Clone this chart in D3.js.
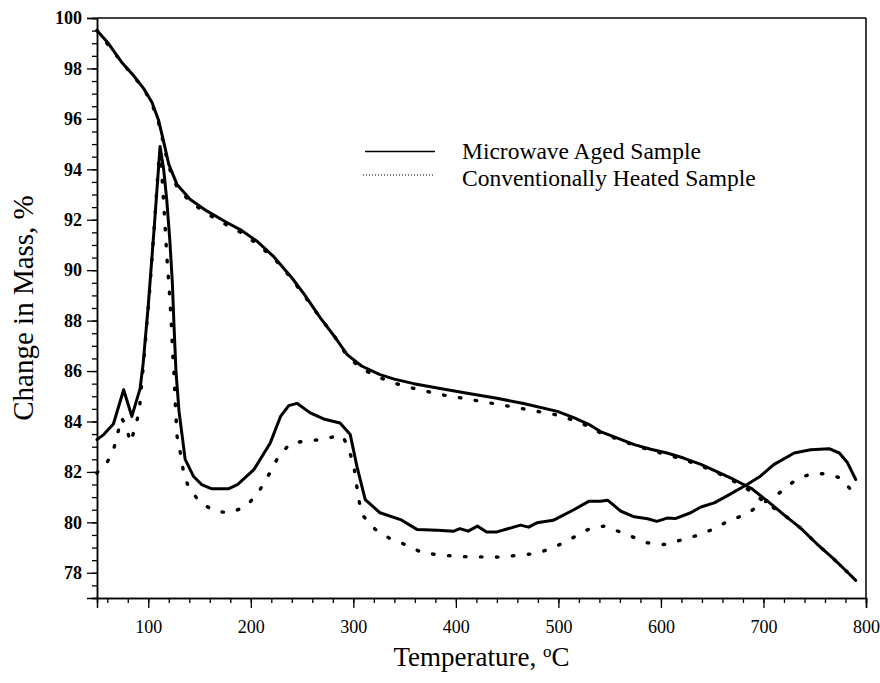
<!DOCTYPE html>
<html>
<head>
<meta charset="utf-8">
<script src="https://cdn.jsdelivr.net/npm/d3@7"></script>
<style>
  html, body { margin: 0; padding: 0; background: #fff; }
  svg { display: block; }
  text { font-family: "Liberation Serif", "Times New Roman", serif; fill: #000; }
</style>
</head>
<body>
<svg id="chart" width="880" height="683"></svg>
<script>
// Thermogravimetric mass curves (Change in Mass, %) vs temperature (°C)
const massTempMw = [50, 60, 74, 85, 95.6, 103.7, 110, 115, 120, 128, 141, 157, 174, 190, 206, 222, 240, 252, 268, 282, 294, 308, 326, 340, 359, 386, 414, 440, 466, 499, 515, 530, 541, 557, 574, 590, 606, 622, 639, 655, 671, 688, 704, 720, 736, 752, 769, 780, 790];
const massMicrowave = [99.5, 99.05, 98.25, 97.75, 97.2, 96.65, 95.95, 95.1, 94.2, 93.4, 92.8, 92.35, 91.95, 91.6, 91.15, 90.55, 89.7, 89.05, 88.1, 87.35, 86.65, 86.2, 85.86, 85.68, 85.5, 85.3, 85.1, 84.92, 84.71, 84.4, 84.15, 83.88, 83.6, 83.35, 83.08, 82.9, 82.75, 82.55, 82.3, 82.0, 81.7, 81.35, 80.84, 80.3, 79.78, 79.15, 78.53, 78.1, 77.7];

const massTempConv = [50, 74, 95.6, 104, 110, 115, 120, 128, 141, 157, 174, 190, 206, 222, 238, 252, 268, 282, 294, 308, 322, 339, 360, 386, 410, 434, 466, 497, 515, 528, 541, 559, 574, 590, 606, 622, 638, 653, 669, 684, 700, 720, 736, 752, 769, 780, 790];
const massConventional = [99.5, 98.25, 97.2, 96.55, 95.85, 95.0, 94.1, 93.3, 92.7, 92.25, 91.85, 91.5, 91.05, 90.5, 89.75, 89.0, 88.1, 87.35, 86.6, 86.1, 85.8, 85.53, 85.3, 85.06, 84.9, 84.73, 84.5, 84.27, 84.05, 83.83, 83.55, 83.28, 83.05, 82.86, 82.68, 82.49, 82.26, 82.0, 81.68, 81.33, 80.84, 80.3, 79.78, 79.15, 78.53, 78.1, 77.7];

// Rate-type curves plotted on the same axis
const rateTempMw = [50, 56.5, 66, 76, 84, 92, 95, 100, 106, 111.5, 115, 118, 121, 123.5, 125, 127, 130, 136, 144, 152, 162, 178, 187, 203, 219, 229, 237, 245, 258, 271, 287, 297, 303.5, 311.6, 326, 346, 362, 382, 398, 404, 412, 421, 430, 440, 463, 471, 479, 495, 515, 530, 541, 548, 561, 574, 587, 596, 606, 614, 629, 639, 652, 665, 684, 697, 710, 730, 746, 764, 774, 782, 790];
const rateMicrowave = [83.28, 83.48, 83.9, 85.26, 84.2, 85.3, 86.3, 88.6, 91.8, 94.9, 94.0, 92.8, 91.2, 89.5, 87.9, 86.0, 84.4, 82.5, 81.83, 81.5, 81.33, 81.33, 81.5, 82.09, 83.15, 84.2, 84.63, 84.72, 84.34, 84.1, 83.94, 83.48, 82.22, 80.9, 80.38, 80.11, 79.72, 79.69, 79.65, 79.75, 79.65, 79.85, 79.62, 79.62, 79.89, 79.81, 79.98, 80.08, 80.5, 80.84, 80.84, 80.88, 80.44, 80.22, 80.14, 80.04, 80.17, 80.15, 80.38, 80.61, 80.77, 81.06, 81.5, 81.83, 82.29, 82.75, 82.88, 82.92, 82.75, 82.36, 81.7];

const rateTempConv = [50, 51.5, 58.5, 66, 70, 74, 78.3, 82.7, 87.2, 91.2, 92.5, 96, 101, 106, 110.5, 113, 114.5, 116.5, 118.2, 120.5, 122.5, 124, 125, 126.4, 128.1, 131.3, 134, 138.6, 149.3, 164.5, 180, 195.8, 208, 217.6, 225.7, 238, 254.7, 269.4, 285.6, 290, 295.4, 300.3, 305, 308.4, 321.4, 336, 352.3, 367, 383, 399.5, 414, 430, 445, 461, 477.6, 492, 508.5, 524.7, 535, 545, 555, 571.9, 586.6, 602.9, 619, 635.4, 651.7, 666.3, 682.6, 699, 713.5, 729.8, 745.4, 760.7, 775.4, 788.4];
const rateConventional = [81.95, 82.05, 82.27, 82.86, 83.5, 84.14, 83.81, 83.17, 83.76, 84.4, 85.0, 86.6, 89.0, 91.8, 94.5, 94.0, 93.0, 91.7, 90.5, 89.2, 87.9, 86.6, 85.99, 84.67, 83.41, 82.75, 82.09, 81.46, 80.84, 80.44, 80.38, 80.64, 81.23, 81.89, 82.51, 83.12, 83.24, 83.28, 83.44, 83.4, 82.91, 82.29, 80.97, 80.31, 79.72, 79.35, 79.09, 78.8, 78.71, 78.66, 78.63, 78.63, 78.62, 78.7, 78.76, 78.95, 79.25, 79.65, 79.8, 79.85, 79.7, 79.43, 79.19, 79.12, 79.29, 79.48, 79.74, 80.07, 80.31, 80.75, 81.1, 81.63, 81.92, 81.93, 81.76, 81.14];

const xMajorTicks = [100, 200, 300, 400, 500, 600, 700, 800];
const yMajorTicks = [78, 80, 82, 84, 86, 88, 90, 92, 94, 96, 98, 100];
const legendLabels = ["Microwave Aged Sample", "Conventionally Heated Sample"];

const svg = d3.select("#chart");
const plot = { left: 97, right: 866, top: 18, bottom: 598 };

const x = d3.scaleLinear().domain([50, 800]).range([plot.left, plot.right]);
const y = d3.scaleLinear().domain([77, 100]).range([plot.bottom, plot.top]);

const xMinor = d3.range(60, 801, 20);
const yMinor = d3.range(77, 100.01, 0.5);

// frame: top and right edges
svg.append("line").attr("x1", plot.left).attr("x2", plot.right)
  .attr("y1", plot.top).attr("y2", plot.top)
  .attr("stroke", "#000").attr("stroke-width", 1.5);
svg.append("line").attr("x1", plot.right).attr("x2", plot.right)
  .attr("y1", plot.top).attr("y2", plot.bottom)
  .attr("stroke", "#000").attr("stroke-width", 1.5);

// bottom axis: minor then major ticks
const gxMinor = svg.append("g").attr("transform", `translate(0,${plot.bottom})`)
  .call(d3.axisBottom(x).tickValues(xMinor).tickSize(5).tickFormat(""));
const gx = svg.append("g").attr("transform", `translate(0,${plot.bottom})`)
  .call(d3.axisBottom(x).tickValues(xMajorTicks).tickSize(10).tickPadding(12).tickFormat(d3.format("d")));
gx.selectAll("text").attr("font-size", 18).attr("font-family", '"Liberation Serif", serif');

// left axis
const gyMinor = svg.append("g").attr("transform", `translate(${plot.left},0)`)
  .call(d3.axisLeft(y).tickValues(yMinor).tickSize(5).tickFormat(""));
const gy = svg.append("g").attr("transform", `translate(${plot.left},0)`)
  .call(d3.axisLeft(y).tickValues(yMajorTicks).tickSize(10).tickPadding(5).tickFormat(d3.format("d")));
gy.selectAll("text").attr("font-size", 18).attr("font-weight", "bold")
  .attr("font-family", '"Liberation Serif", serif');

[gxMinor, gx, gyMinor, gy].forEach(g => {
  g.selectAll(".domain").attr("stroke", "#000").attr("stroke-width", 1.5);
  g.selectAll(".tick line").attr("stroke", "#000").attr("stroke-width", 1.3);
});

// axis titles
svg.append("text")
  .attr("x", (plot.left + plot.right) / 2).attr("y", 666)
  .attr("text-anchor", "middle").attr("font-size", 27)
  .text("Temperature, ")
  .append("tspan").attr("baseline-shift", "super").attr("font-size", 17).text("o")
  .select(function () { return this.parentNode; })
  .append("tspan").text("C");

svg.append("text")
  .attr("transform", `translate(33,${(plot.top + plot.bottom) / 2}) rotate(-90)`)
  .attr("text-anchor", "middle").attr("font-size", 29)
  .text("Change in Mass, %");

// curves
const lineOf = (ts, vs) => d3.line().x((d, i) => x(ts[i])).y(d => y(d))(vs);

const solidStyle = p => p.attr("fill", "none").attr("stroke", "#000")
  .attr("stroke-width", 3).attr("stroke-linejoin", "round").attr("stroke-linecap", "round");
const dottedStyle = p => p.attr("fill", "none").attr("stroke", "#000")
  .attr("stroke-width", 3.4).attr("stroke-linecap", "round")
  .attr("stroke-dasharray", "1.5,14.5");

svg.append("path").attr("d", lineOf(massTempConv, massConventional)).call(dottedStyle);
svg.append("path").attr("d", lineOf(rateTempConv, rateConventional)).call(dottedStyle);
svg.append("path").attr("d", lineOf(massTempMw, massMicrowave)).call(solidStyle);
svg.append("path").attr("d", lineOf(rateTempMw, rateMicrowave)).call(solidStyle);

// legend
const legend = svg.append("g");
legend.append("line").attr("x1", 365).attr("x2", 435).attr("y1", 151.5).attr("y2", 151.5)
  .attr("stroke", "#000").attr("stroke-width", 1.6);
legend.append("line").attr("x1", 363).attr("x2", 433).attr("y1", 175).attr("y2", 175)
  .attr("stroke", "#000").attr("stroke-width", 1).attr("stroke-dasharray", "1,2");
legend.append("text").attr("x", 462).attr("y", 159).attr("font-size", 23.5).text(legendLabels[0]);
legend.append("text").attr("x", 462).attr("y", 186).attr("font-size", 23.5).text(legendLabels[1]);
</script>
</body>
</html>
